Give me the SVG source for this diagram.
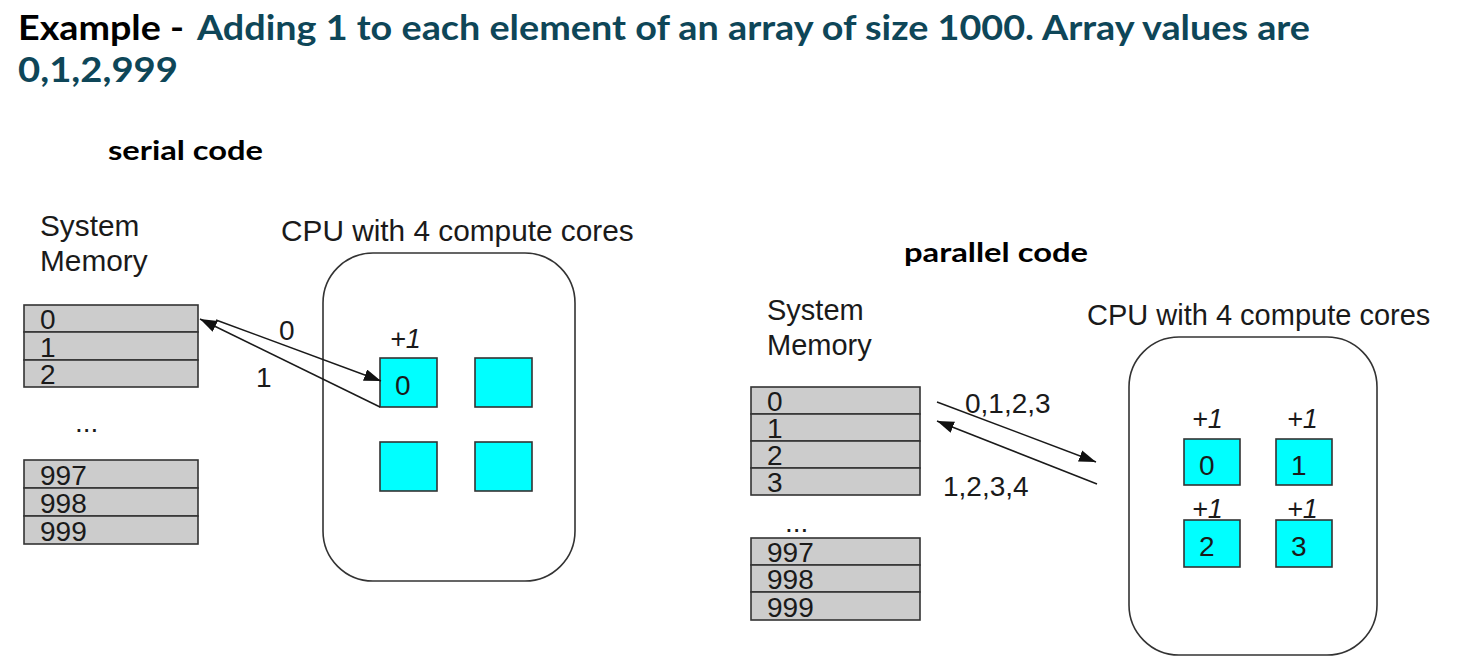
<svg xmlns="http://www.w3.org/2000/svg" width="1463" height="671" viewBox="0 0 1463 671">
<style>
.title{font-family:Lato,"Open Sans",sans-serif;font-weight:bold;font-size:34px}
.sub{font-family:Lato,"Open Sans",sans-serif;font-weight:bold;font-size:26px;fill:#000}
.lbl{font-family:"Liberation Sans",Arial,sans-serif;font-size:29.8px;fill:#1a1a1a}
.lbl2{font-family:"Liberation Sans",Arial,sans-serif;font-size:29px;fill:#1a1a1a}
.num{font-family:"Liberation Sans",Arial,sans-serif;font-size:28px;fill:#1a1a1a}
.it{font-family:"Liberation Sans",Arial,sans-serif;font-size:27px;font-style:italic;fill:#1a1a1a}
.cell{fill:#cccccc;stroke:#333;stroke-width:1.6}
.cpu{fill:#fff;stroke:#333;stroke-width:1.6}
.core{fill:#00ffff;stroke:#333;stroke-width:1.6}
.conn{stroke:#1a1a1a;stroke-width:1.5;fill:none;marker-end:url(#ah)}
</style>
<defs>
<marker id="ah" markerUnits="userSpaceOnUse" markerWidth="18" markerHeight="12" refX="17" refY="6" orient="auto">
<path d="M0,0 L17,6 L0,12 Z" fill="#111"/>
</marker>
</defs>
<rect width="1463" height="671" fill="#fff"/>
<g id="title">
<text class="title" x="18" y="40" fill="#000" textLength="166" lengthAdjust="spacingAndGlyphs">Example -</text>
<text class="title" x="197" y="40" fill="#0e4658" textLength="1113" lengthAdjust="spacingAndGlyphs">Adding 1 to each element of an array of size 1000. Array values are</text>
<text class="title" x="18" y="82" fill="#0e4658" textLength="160" lengthAdjust="spacingAndGlyphs">0,1,2,999</text>
</g>
<g id="serial-label"><text class="sub" x="108" y="160" textLength="155" lengthAdjust="spacingAndGlyphs">serial code</text></g>
<g id="parallel-label"><text class="sub" x="904" y="262" textLength="184" lengthAdjust="spacingAndGlyphs">parallel code</text></g>

<g id="serial-memory">
<text class="lbl" x="40" y="236">System</text>
<text class="lbl" x="40" y="271">Memory</text>
<rect class="cell" x="24" y="305" width="174" height="27"/>
<rect class="cell" x="24" y="332" width="174" height="28"/>
<rect class="cell" x="24" y="360" width="174" height="27"/>
<text class="num" x="40" y="329">0</text>
<text class="num" x="40" y="357">1</text>
<text class="num" x="40" y="384">2</text>
<text class="num" x="75" y="432">...</text>
<rect class="cell" x="24" y="460" width="174" height="28"/>
<rect class="cell" x="24" y="488" width="174" height="28"/>
<rect class="cell" x="24" y="516" width="174" height="28"/>
<text class="num" x="40" y="485">997</text>
<text class="num" x="40" y="513">998</text>
<text class="num" x="40" y="541">999</text>
</g>

<g id="serial-cpu">
<text class="lbl" x="281" y="241">CPU with 4 compute cores</text>
<rect class="cpu" x="323" y="253" width="252" height="328" rx="50" ry="50"/>
</g>
<g id="serial-core0">
<text class="it" x="390" y="348">+1</text>
<rect class="core" x="380" y="358" width="57" height="49"/>
<text class="num" x="395" y="395">0</text>
</g>
<g id="serial-core1"><rect class="core" x="475" y="358" width="57" height="49"/></g>
<g id="serial-core2"><rect class="core" x="380" y="442" width="57" height="49"/></g>
<g id="serial-core3"><rect class="core" x="475" y="442" width="57" height="49"/></g>

<g id="parallel-memory">
<text class="lbl2" x="767" y="320">System</text>
<text class="lbl2" x="767" y="355">Memory</text>
<rect class="cell" x="751" y="387" width="169" height="27"/>
<rect class="cell" x="751" y="414" width="169" height="27"/>
<rect class="cell" x="751" y="441" width="169" height="27"/>
<rect class="cell" x="751" y="468" width="169" height="27"/>
<text class="num" x="767" y="411">0</text>
<text class="num" x="767" y="438">1</text>
<text class="num" x="767" y="465">2</text>
<text class="num" x="767" y="492">3</text>
<text class="num" x="785" y="532">...</text>
<rect class="cell" x="751" y="538" width="169" height="27"/>
<rect class="cell" x="751" y="565" width="169" height="27"/>
<rect class="cell" x="751" y="592" width="169" height="28"/>
<text class="num" x="767" y="562">997</text>
<text class="num" x="767" y="589">998</text>
<text class="num" x="767" y="617">999</text>
</g>

<g id="parallel-cpu">
<text class="lbl2" x="1087" y="325">CPU with 4 compute cores</text>
<rect class="cpu" x="1129" y="337" width="248" height="318" rx="50" ry="50"/>
</g>
<g id="parallel-core0">
<text class="it" x="1192" y="428">+1</text>
<rect class="core" x="1184" y="439" width="56" height="46"/>
<text class="num" x="1199" y="475">0</text>
</g>
<g id="parallel-core1">
<text class="it" x="1287" y="428">+1</text>
<rect class="core" x="1276" y="439" width="56" height="46"/>
<text class="num" x="1291" y="475">1</text>
</g>
<g id="parallel-core2">
<rect class="core" x="1184" y="520" width="56" height="47"/>
<text class="it" x="1192" y="518">+1</text>
<text class="num" x="1199" y="556">2</text>
</g>
<g id="parallel-core3">
<rect class="core" x="1276" y="520" width="56" height="47"/>
<text class="it" x="1287" y="518">+1</text>
<text class="num" x="1291" y="556">3</text>
</g>

<g id="connectors">
<line class="conn" x1="216" y1="320" x2="381" y2="381"/>
<line class="conn" x1="380" y1="407" x2="200" y2="319"/>
<line class="conn" x1="937" y1="402" x2="1096" y2="462"/>
<line class="conn" x1="1097" y1="484" x2="937" y2="421"/>
<text class="num" x="279" y="340">0</text>
<text class="num" x="256" y="387">1</text>
<text class="num" x="965" y="413">0,1,2,3</text>
<text class="num" x="943" y="496">1,2,3,4</text>
</g>
</svg>
